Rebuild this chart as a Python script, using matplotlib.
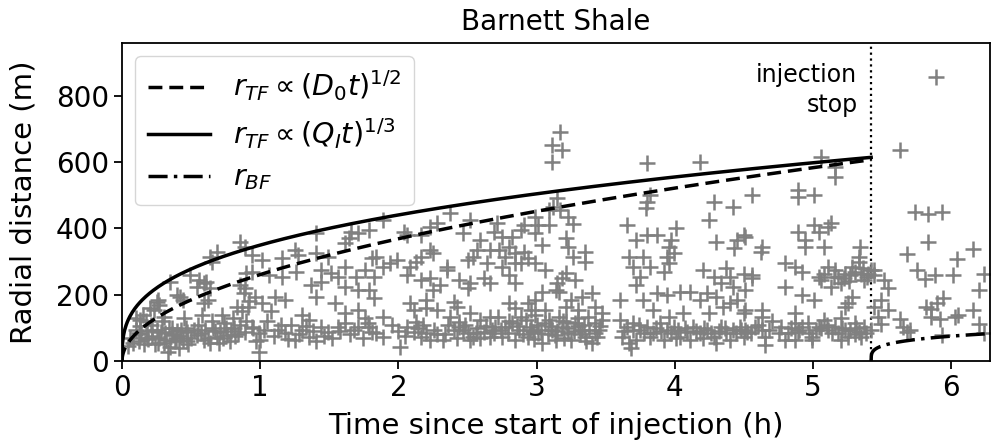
import numpy as np
import matplotlib
matplotlib.use("Agg")
import matplotlib.pyplot as plt

# Seismic events (time since start of injection in h, radial distance in m)
events_early = [
    (0.04, 45), (0.06, 70), (0.08, 55), (0.10, 95), (0.10, 130), (0.12, 60), (0.13, 105), (0.13, 124),
    (0.14, 80), (0.15, 139), (0.16, 50), (0.17, 120), (0.18, 90), (0.19, 65), (0.20, 160), (0.21, 110),
    (0.22, 75), (0.23, 154), (0.24, 50), (0.25, 95), (0.25, 178), (0.26, 184), (0.27, 169), (0.27, 70),
    (0.28, 89), (0.29, 120), (0.30, 134), (0.30, 55), (0.32, 63), (0.33, 28), (0.34, 100), (0.35, 239),
    (0.35, 43), (0.36, 80), (0.37, 79), (0.38, 60), (0.40, 200), (0.40, 90), (0.41, 40), (0.42, 194),
    (0.42, 75), (0.44, 184), (0.44, 63), (0.45, 130), (0.46, 100), (0.47, 89), (0.48, 50), (0.49, 260),
    (0.50, 70),
    (0.54, 224), (0.56, 245), (0.61, 239), (0.64, 219), (0.65, 300), (0.69, 330), (0.64, 315), (0.59, 235),
    (0.62, 184), (0.59, 174), (0.83, 164), (0.88, 204), (0.90, 265), (0.85, 229), (0.85, 360), (0.89, 345),
    (0.54, 79), (0.59, 63), (0.64, 53), (0.69, 73), (0.71, 89), (0.76, 79), (0.81, 99), (0.85, 109),
    (0.89, 89), (0.55, 110), (0.60, 95), (0.65, 120), (0.70, 55), (0.72, 140), (0.75, 100), (0.78, 60),
    (0.80, 130), (0.82, 75), (0.87, 150), (0.90, 120), (0.92, 180), (0.95, 100), (0.97, 60), (0.58, 140),
    (0.67, 90), (0.74, 115),
]

events_mid = [
    (0.94, 319), (1.01, 305), (1.16, 310), (1.27, 320), (1.40, 325), (1.49, 315), (1.25, 335), (1.40, 386),
    (1.66, 390), (1.64, 370), (1.71, 385), (1.61, 355), (0.94, 270), (1.06, 260), (1.16, 255), (1.26, 270),
    (1.44, 275), (1.51, 265), (1.61, 285), (1.69, 255), (1.76, 275), (1.81, 310), (1.37, 229), (1.40, 194),
    (1.44, 239), (1.56, 255), (1.61, 224), (1.71, 214), (0.89, 219), (0.96, 194), (1.01, 174), (0.91, 164),
    (1.11, 194), (1.18, 184), (1.54, 174), (1.61, 144), (1.30, 139), (1.35, 124), (1.71, 154), (1.76, 129),
    (0.94, 104), (0.99, 83), (1.00, 63), (0.99, 28), (1.13, 93), (1.18, 83), (1.25, 63), (1.35, 73),
    (1.44, 104), (1.49, 89), (1.56, 104), (1.61, 114), (1.71, 104), (1.78, 114), (1.81, 89), (1.05, 120),
    (1.22, 110), (1.30, 95), (1.40, 60), (1.52, 70), (1.65, 80), (1.08, 150),
    (1.89, 426), (2.37, 446), (2.28, 416), (2.23, 406), (2.52, 426), (2.71, 416), (2.04, 390), (2.06, 380),
    (1.79, 395), (2.16, 380), (2.47, 385), (2.59, 365), (2.69, 390), (2.57, 335), (2.66, 335), (2.23, 335),
    (2.25, 325), (2.16, 315), (1.99, 305), (1.94, 295), (1.89, 285), (2.08, 285), (2.13, 300), (2.35, 285),
    (2.50, 305), (2.54, 315), (2.64, 295), (1.84, 315), (1.82, 255), (2.06, 260), (2.16, 244), (2.23, 250),
    (2.35, 275), (2.44, 244), (2.50, 219), (2.52, 234), (2.62, 250), (2.66, 234), (2.25, 214), (2.30, 229),
    (1.79, 214), (1.82, 189), (2.20, 184), (2.40, 179), (2.42, 164), (2.08, 174), (2.11, 154), (2.20, 159),
    (2.28, 154), (2.37, 134), (2.44, 119), (2.52, 144), (2.59, 124), (2.66, 134), (1.89, 134), (2.13, 119),
    (2.18, 109), (1.79, 104), (1.84, 83), (1.89, 73), (2.06, 104), (2.11, 89), (2.16, 73), (2.23, 63),
    (2.32, 63), (2.40, 93), (2.44, 104), (2.50, 83), (2.54, 73), (2.62, 89), (2.69, 83), (2.70, 104),
    (2.01, 43), (2.52, 63), (2.59, 68), (2.66, 73), (1.95, 110), (2.00, 90), (2.28, 80), (2.36, 110),
    (2.47, 95), (2.57, 100),
]

events_late = [
    (3.17, 692), (3.11, 652), (3.18, 637), (3.11, 602), (3.15, 491), (3.12, 466), (3.17, 456), (3.09, 456),
    (2.99, 436), (3.01, 410), (3.09, 410), (3.23, 436), (3.26, 415), (2.75, 375), (2.82, 375), (2.89, 395),
    (2.91, 410), (2.99, 385), (3.04, 350), (3.21, 370), (3.23, 345), (2.80, 345), (2.73, 335), (2.77, 315),
    (2.84, 325), (2.91, 330), (2.94, 310), (2.99, 295), (3.06, 275), (3.26, 315), (3.35, 330), (3.35, 300),
    (2.75, 285), (2.84, 295), (2.89, 295), (2.80, 260), (2.84, 234), (3.21, 265), (3.28, 244), (3.15, 234),
    (3.14, 214), (3.16, 209), (3.18, 250), (2.80, 174), (2.84, 159), (2.94, 174), (2.99, 184), (3.04, 209),
    (2.96, 154), (3.06, 154), (3.25, 184), (3.33, 194), (3.40, 204), (3.42, 164), (3.30, 154), (3.21, 164),
    (2.72, 134), (2.77, 103), (2.82, 114), (2.87, 93), (2.92, 124), (2.96, 103), (3.01, 83), (3.06, 114),
    (3.11, 93), (3.16, 134), (3.18, 103), (3.23, 83), (3.28, 114), (3.33, 93), (3.37, 134), (3.42, 114),
    (3.45, 93), (2.75, 73), (2.84, 63), (2.94, 73), (3.04, 53), (3.14, 63), (3.25, 63), (3.35, 73),
    (3.40, 53), (2.89, 134), (2.99, 139), (3.09, 124), (3.30, 129), (2.79, 85), (2.97, 88), (3.13, 78),
    (3.21, 118), (3.31, 82), (3.44, 72), (3.47, 125), (3.47, 145),
    (3.80, 597), (4.18, 602), (3.82, 500), (3.80, 481), (3.79, 461), (4.28, 481), (4.42, 466), (4.25, 426),
    (3.65, 411), (4.01, 401), (3.80, 380), (3.72, 365), (3.87, 380), (3.97, 365), (3.96, 345), (4.30, 360),
    (4.45, 365), (4.50, 380), (4.43, 340), (3.67, 315), (3.77, 315), (3.70, 285), (3.75, 254), (3.72, 229),
    (3.82, 285), (3.92, 270), (3.96, 295), (3.99, 325), (3.94, 315), (4.20, 275), (4.28, 254), (4.37, 280),
    (4.40, 254), (4.50, 264), (4.33, 234), (4.42, 224), (3.77, 184), (3.87, 204), (3.94, 199), (4.04, 209),
    (4.11, 209), (4.18, 184), (4.23, 204), (4.30, 194), (4.35, 164), (4.40, 174), (4.45, 184), (4.50, 144),
    (3.60, 184), (3.84, 154), (3.96, 134), (4.06, 144), (4.25, 144),
    (3.60, 124), (3.65, 104), (3.70, 114), (3.75, 93), (3.80, 104), (3.84, 83), (3.89, 114), (3.94, 93),
    (3.99, 104), (4.04, 73), (4.09, 88), (4.13, 104), (4.18, 83), (4.23, 93), (4.28, 73), (4.33, 104),
    (4.37, 83), (4.42, 93), (4.47, 104), (4.52, 88), (3.62, 73), (3.67, 53), (3.72, 63), (3.82, 73),
    (3.92, 63), (4.01, 68), (4.11, 63), (4.20, 68), (4.30, 53), (4.40, 63), (4.50, 73), (3.68, 38),
]

events_end = [
    (5.06, 617), (5.16, 586), (5.16, 556), (4.56, 501), (4.89, 516), (4.89, 496), (5.01, 501), (4.51, 375),
    (4.63, 345), (4.62, 330), (4.89, 390), (4.94, 365), (4.94, 345), (5.01, 411), (5.04, 390), (5.13, 416),
    (5.11, 406), (5.08, 345), (5.34, 345), (4.80, 295), (4.87, 285), (4.92, 270), (4.56, 260), (4.56, 250),
    (4.51, 214), (4.80, 224), (5.04, 254), (5.08, 264), (5.11, 285), (5.16, 275), (5.18, 254), (5.23, 264),
    (5.20, 234), (5.28, 285), (5.33, 300), (5.35, 264), (5.37, 244), (5.42, 275), (5.40, 264), (5.33, 315),
    (5.13, 224), (5.06, 244), (4.92, 199), (5.01, 184), (5.25, 174), (5.28, 194), (5.23, 164), (4.51, 154),
    (4.63, 154), (4.63, 134), (4.87, 144),
    (4.51, 93), (4.58, 104), (4.63, 93), (4.65, 73), (4.65, 48), (4.77, 104), (4.82, 83), (4.80, 63),
    (4.87, 114), (4.92, 104), (4.89, 88), (4.96, 114), (4.99, 73), (5.04, 104), (5.08, 124), (5.11, 93),
    (5.16, 104), (5.18, 83), (5.23, 93), (5.25, 73), (5.30, 114), (5.33, 88), (5.37, 104), (5.42, 93),
    (5.35, 73), (4.87, 63), (4.99, 63), (5.20, 63), (4.70, 120), (5.20, 130),
]

# Densest low-distance band and the late cluster just before shut-in
events_band = [
    (0.12, 85), (0.18, 70), (0.22, 95), (0.26, 55), (0.31, 85), (0.36, 100), (0.39, 70), (0.43, 95),
    (0.47, 60), (0.52, 95), (0.57, 85), (0.62, 70), (0.66, 100), (0.73, 70), (0.79, 90), (0.84, 80),
    (1.03, 95), (1.10, 75), (1.15, 110), (1.20, 65), (1.28, 80), (1.33, 105), (1.38, 90), (1.46, 75),
    (1.58, 90), (1.68, 95), (1.74, 70),
    (2.05, 75), (2.14, 100), (2.20, 85), (2.26, 95), (2.34, 80), (2.42, 70), (2.48, 110), (2.56, 85),
    (2.63, 105), (2.68, 95),
    (2.74, 95), (2.80, 120), (2.86, 105), (2.90, 80), (2.95, 95), (3.00, 110), (3.03, 95), (3.08, 80),
    (3.10, 105), (3.15, 90), (3.19, 120), (3.22, 100), (3.27, 90), (3.30, 105), (3.34, 110), (3.38, 95),
    (3.42, 85), (3.46, 105), (2.98, 65), (3.20, 70), (3.36, 60),
    (3.63, 90), (3.70, 95), (3.74, 110), (3.78, 85), (3.86, 100), (3.90, 90), (3.97, 85), (4.02, 95),
    (4.07, 100), (4.15, 90), (4.21, 100), (4.26, 85), (4.32, 90), (4.36, 100), (4.44, 85), (4.48, 95),
    (4.55, 85), (4.60, 110), (4.68, 95), (4.75, 85), (4.84, 100), (4.90, 95), (4.97, 85), (5.02, 95),
    (5.06, 100), (5.10, 110), (5.14, 85), (5.21, 100), (5.27, 95), (5.31, 100), (5.38, 85), (5.30, 80),
    (5.15, 255), (5.22, 250), (5.27, 260), (5.30, 270), (5.36, 280), (5.39, 255), (5.26, 240),
]

events_shut_in = [
    (5.89, 858), (5.63, 637), (5.74, 450), (5.83, 445), (5.93, 450), (5.83, 359), (5.68, 324), (6.04, 309),
    (6.16, 339), (5.75, 274), (5.81, 249), (5.88, 259), (6.01, 259), (6.24, 264), (6.20, 214), (5.44, 274),
    (5.44, 259), (5.51, 244), (5.54, 219), (5.49, 184), (5.54, 153), (5.49, 113), (5.44, 163), (5.82, 163),
    (5.85, 158), (5.94, 189), (5.90, 174), (5.85, 133), (5.92, 128), (6.05, 138), (6.03, 133), (6.16, 153),
    (6.20, 113), (6.24, 83), (5.63, 128), (5.65, 103), (5.68, 88), (5.70, 93), (5.93, 77), (5.47, 133),
]

# Model parameters
t_stop = 5.42          # injection stop (h)
k_diffusion = 261.0    # m / h^(1/2), triggering front for diffusion
k_volume = 350.0       # m / h^(1/3), triggering front for injected volume
k_back = 86.0          # back front prefactor
p_back = 0.25          # back front exponent
t_max = 6.28
r_max = 960

events = np.array(events_early + events_mid + events_late + events_end
                  + events_band + events_shut_in)

plt.rcParams['font.family'] = ['DejaVu Sans']
fig = plt.figure(figsize=(9.93, 4.46), dpi=100)
ax = fig.add_axes([0.1229, 0.1906, 0.8741, 0.713])

ax.plot(events[:, 0], events[:, 1], linestyle='none', marker='+', markersize=12,
        markeredgewidth=1.8, color='gray', zorder=2)

t_inj = np.concatenate([np.linspace(0, 0.02, 200), np.linspace(0.02, t_stop, 600)])
ax.plot(t_inj, k_diffusion * np.sqrt(t_inj), 'k--', lw=2.5, dashes=(4, 2),
        label=r'$r_{TF} \propto (D_0 t)^{1/2}$', zorder=3)
ax.plot(t_inj, k_volume * np.cbrt(t_inj), 'k-', lw=2.5,
        label=r'$r_{TF} \propto (Q_I t)^{1/3}$', zorder=3)

t_post = np.concatenate([np.linspace(t_stop, t_stop + 0.02, 200), np.linspace(t_stop + 0.02, t_max, 400)])
ax.plot(t_post, k_back * (t_post - t_stop) ** p_back, 'k-.', lw=2.5, dashes=(5.5, 1.8, 1.0, 1.8),
        label=r'$r_{BF}$', zorder=3)

ax.axvline(t_stop, color='black', linestyle=':', lw=1.6, zorder=1)
ax.text(t_stop - 0.1, 900, 'injection\nstop', ha='right', va='top', fontsize=17,
        linespacing=1.3)

ax.set_xlim(0, t_max)
ax.set_ylim(0, r_max)
ax.set_xticks([0, 1, 2, 3, 4, 5, 6])
ax.set_yticks([0, 200, 400, 600, 800])
ax.tick_params(labelsize=20, length=6, width=1.3)
for s in ax.spines.values():
    s.set_linewidth(1.3)
ax.set_xlabel('Time since start of injection (h)', fontsize=21, labelpad=7)
ax.set_ylabel('Radial distance (m)', fontsize=21, labelpad=13)
ax.set_title('Barnett Shale', fontsize=20, pad=9)

ax.legend(loc='upper left', fontsize=20.5, handlelength=2.2, borderaxespad=0.45,
          labelspacing=0.45, handletextpad=0.8, borderpad=0.45)

fig.savefig('out.png', dpi=100)
